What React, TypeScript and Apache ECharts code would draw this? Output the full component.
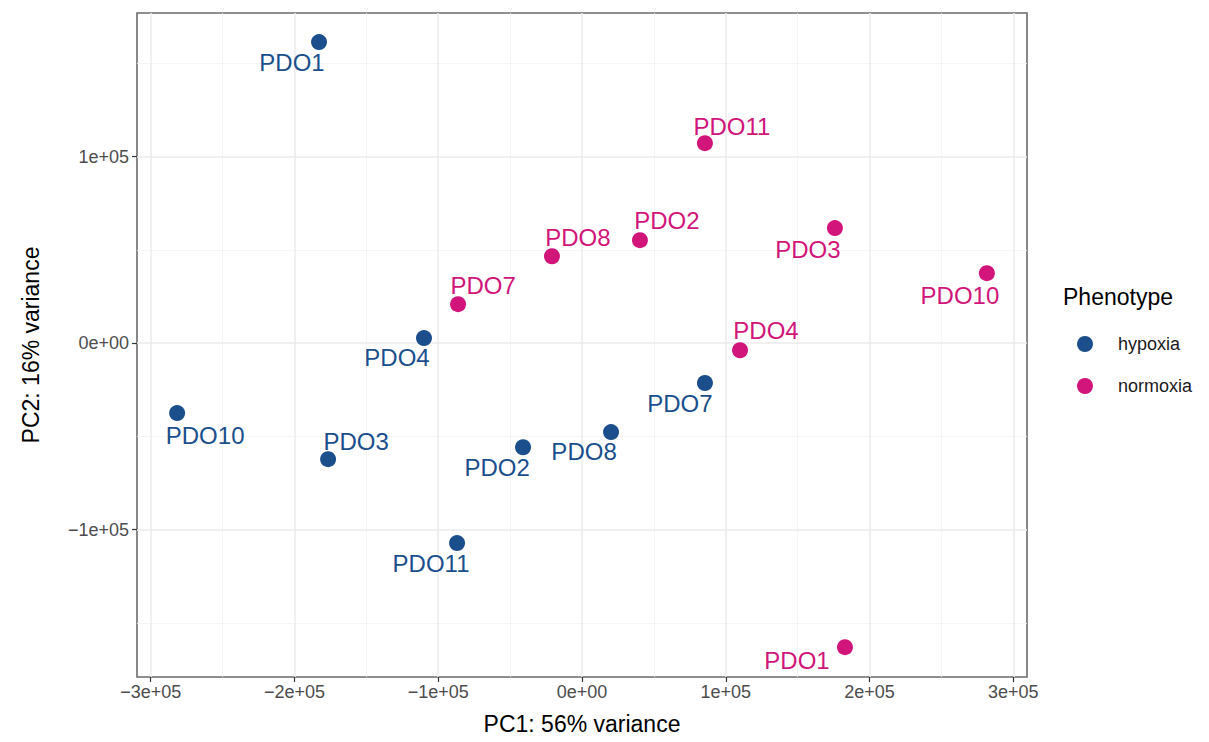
import React, { useEffect, useRef } from 'react';
import * as echarts from 'echarts';

// ---------- data ----------
const hypoxiaNames = ['PDO1', 'PDO4', 'PDO10', 'PDO3', 'PDO2', 'PDO8', 'PDO7', 'PDO11'];
const hypoxiaPC1 = [-182900, -109900, -281600, -176600, -41000, 20200, 85500, -86900];
const hypoxiaPC2 = [161400, 2700, -37500, -62200, -55800, -47700, -21400, -107200];

const normoxiaNames = ['PDO11', 'PDO2', 'PDO8', 'PDO7', 'PDO3', 'PDO10', 'PDO4', 'PDO1'];
const normoxiaPC1 = [85500, 40300, -20900, -86200, 175900, 281600, 109900, 182900];
const normoxiaPC2 = [107200, 55200, 46600, 20900, 61700, 37500, -3800, -163000];

const xTicks = [-300000, -200000, -100000, 0, 100000, 200000, 300000];
const xTickLabels = ['\u22123e+05', '\u22122e+05', '\u22121e+05', '0e+00', '1e+05', '2e+05', '3e+05'];
const xMinor = [-250000, -150000, -50000, 50000, 150000, 250000];
const yTicks = [-100000, 0, 100000];
const yTickLabels = ['\u22121e+05', '0e+00', '1e+05'];
const yMinor = [-150000, -50000, 50000, 150000];

const groups = ['hypoxia', 'normoxia'];
const xTitle = 'PC1: 56% variance';
const yTitle = 'PC2: 16% variance';
const legendTitle = 'Phenotype';

// ---------- label placement (repel offsets, px) ----------
const hypoxiaLabelOffsets = [[-27, 20], [-27, 19], [28, 22], [28, -18], [-26, 20], [-27, 19], [-25, 20], [-26, 20]];
const normoxiaLabelOffsets = [[27, -17], [27, -20], [26, -19], [25, -19], [-27, 21], [-27, 22], [26, -20], [-48, 13]];

const COLORS = { hypoxia: '#1B4F8C', normoxia: '#D1157A' };
const FONT = '"Liberation Sans", Arial, Helvetica, sans-serif';

function buildPoints(names: string[], xs: number[], ys: number[], offsets: number[][], color: string) {
  return names.map((n, i) => ({
    name: n,
    value: [xs[i], ys[i]],
    label: {
      show: true,
      formatter: n,
      position: 'inside',
      offset: offsets[i],
      align: 'center',
      verticalAlign: 'middle',
      color,
      fontSize: 24,
      fontFamily: FONT,
    },
  }));
}

export default function App() {
  const ref = useRef<HTMLDivElement>(null);

  useEffect(() => {
    if (!ref.current) return;
    const chart = echarts.init(ref.current, undefined, { renderer: 'svg' });

    const gridColor = '#EBEBEB';
    const markLineData = [
      ...xMinor.map((v) => ({ xAxis: v, lineStyle: { color: '#F2F2F2', width: 0.8, type: 'solid' } })),
      ...yMinor.map((v) => ({ yAxis: v, lineStyle: { color: '#F2F2F2', width: 0.8, type: 'solid' } })),
      ...xTicks.map((v) => ({ xAxis: v, lineStyle: { color: gridColor, width: 1.5, type: 'solid' } })),
      ...yTicks.map((v) => ({ yAxis: v, lineStyle: { color: gridColor, width: 1.5, type: 'solid' } })),
    ];

    chart.setOption({
      animation: false,
      backgroundColor: '#ffffff',
      textStyle: { fontFamily: FONT },
      grid: {
        left: 137,
        right: 182,
        top: 13,
        bottom: 65,
        show: true,
        borderColor: '#6b6b6b',
        borderWidth: 1.6,
        backgroundColor: 'transparent',
        outerBoundsMode: 'none',
        containLabel: false,
      },
      xAxis: {
        type: 'value',
        min: -309500,
        max: 309500,
        name: xTitle,
        nameLocation: 'middle',
        nameGap: 35,
        nameTextStyle: { color: '#000', fontSize: 23, fontFamily: FONT },
        axisLine: { show: false, onZero: false },
        splitLine: { show: false },
        axisTick: {
          show: true,
          customValues: xTicks,
          length: 5,
          lineStyle: { color: '#333333', width: 1.2 },
        },
        axisLabel: {
          customValues: xTicks,
          formatter: (v: number) => xTickLabels[xTicks.indexOf(v)] ?? '',
          color: '#4D4D4D',
          fontSize: 18,
          fontFamily: FONT,
          margin: 6,
        },
      },
      yAxis: {
        type: 'value',
        min: -179000,
        max: 177000,
        name: yTitle,
        nameLocation: 'middle',
        nameGap: 95,
        nameTextStyle: { color: '#000', fontSize: 23, fontFamily: FONT },
        axisLine: { show: false, onZero: false },
        splitLine: { show: false },
        axisTick: {
          show: true,
          customValues: yTicks,
          length: 5,
          lineStyle: { color: '#333333', width: 1.2 },
        },
        axisLabel: {
          customValues: yTicks,
          formatter: (v: number) => yTickLabels[yTicks.indexOf(v)] ?? '',
          color: '#4D4D4D',
          fontSize: 18,
          fontFamily: FONT,
          margin: 8,
        },
      },
      legend: {
        data: groups,
        orient: 'vertical',
        left: 1077,
        top: 335,
        padding: 0,
        itemWidth: 16,
        itemHeight: 16,
        itemGap: 24,
        icon: 'circle',
        textStyle: { color: '#1a1a1a', fontSize: 18, fontFamily: FONT, padding: [0, 0, 0, 20] },
      },
      graphic: [
        {
          type: 'text',
          left: 1063,
          top: 285,
          style: { text: legendTitle, fill: '#000', fontSize: 23, fontFamily: FONT },
        },
      ],
      series: [
        {
          type: 'scatter',
          name: '__grid',
          data: [],
          silent: true,
          z: 0,
          zlevel: 0,
          markLine: {
            silent: true,
            symbol: ['none', 'none'],
            label: { show: false },
            emphasis: { disabled: true },
            z: 0,
            data: markLineData,
          },
        },
        {
          type: 'scatter',
          name: groups[0],
          symbol: 'circle',
          symbolSize: 16,
          itemStyle: { color: COLORS.hypoxia, opacity: 1 },
          z: 3,
          data: buildPoints(hypoxiaNames, hypoxiaPC1, hypoxiaPC2, hypoxiaLabelOffsets, COLORS.hypoxia),
        },
        {
          type: 'scatter',
          name: groups[1],
          symbol: 'circle',
          symbolSize: 16,
          itemStyle: { color: COLORS.normoxia, opacity: 1 },
          z: 3,
          data: buildPoints(normoxiaNames, normoxiaPC1, normoxiaPC2, normoxiaLabelOffsets, COLORS.normoxia),
        },
      ],
    });

    return () => chart.dispose();
  }, []);

  return (
    <div
      ref={ref}
      style={{ position: 'absolute', left: 0, top: 0, width: 1209, height: 742, background: '#fff' }}
    />
  );
}
